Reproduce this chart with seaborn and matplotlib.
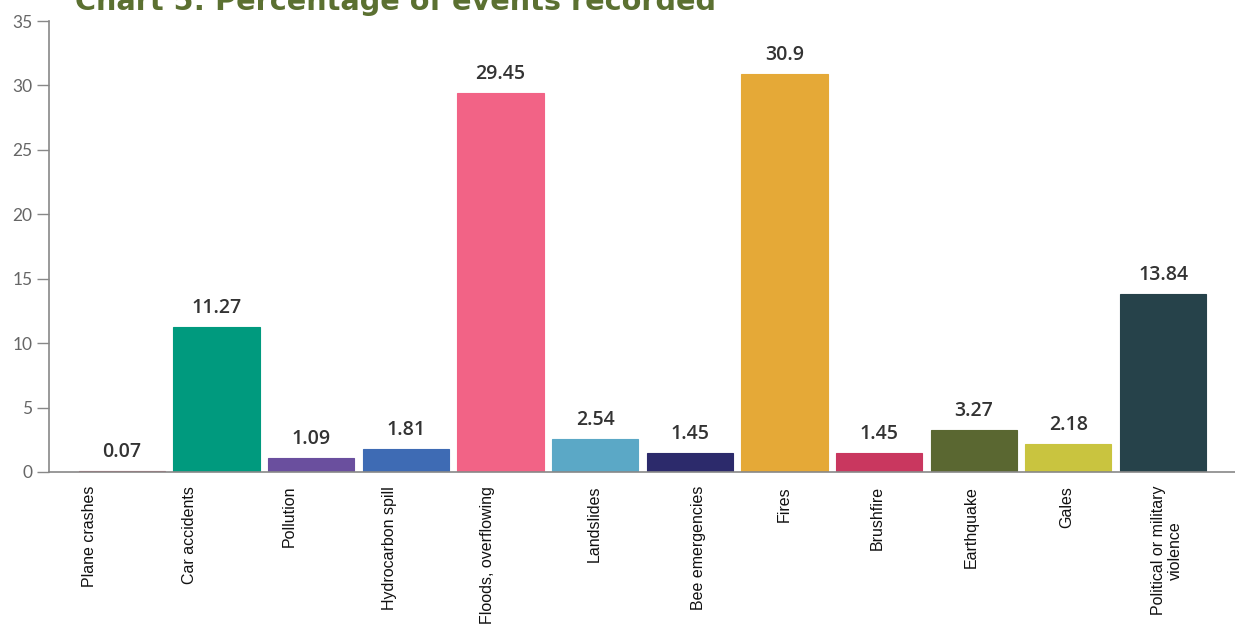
import matplotlib
matplotlib.use("Agg")
import matplotlib.pyplot as plt
import matplotlib.transforms as mtransforms
import seaborn as sns
import pandas as pd

categories = ["Plane crashes", "Car accidents", "Pollution", "Hydrocarbon spill",
              "Floods, overflowing", "Landslides", "Bee emergencies", "Fires",
              "Brushfire", "Earthquake", "Gales", "Political or military\nviolence"]
values = [0.07, 11.27, 1.09, 1.81, 29.45, 2.54, 1.45, 30.9, 1.45, 3.27, 2.18, 13.84]
value_labels = ["0.07", "11.27", "1.09", "1.81", "29.45", "2.54", "1.45", "30.9",
                "1.45", "3.27", "2.18", "13.84"]
colors = ["#c8566a", "#009a7e", "#6a4f9e", "#3e6bb4", "#f26386", "#5ba8c6",
          "#2c2a6b", "#e5a937", "#c9375f", "#5a6731", "#c9c43f", "#26424a"]
yticks = [0, 5, 10, 15, 20, 25, 30, 35]
title = "Chart 5: Percentage of events recorded"

# layout: horizontal pixel shift of each category label (as in the original)
label_shift_px = [-32, -27, -22, -16, -13, -1, 9, 0, -2, -3, -2, 4]

sns.set_theme(style="white")
plt.rcParams['font.family'] = ['DejaVu Sans']

df = pd.DataFrame({"category": categories, "value": values})

fig = plt.figure(figsize=(12.35, 6.26), dpi=100)
ax = fig.add_axes([49/1235, 1 - 472/626, 1 - 49/1235, (472 - 21)/626])

sns.barplot(data=df, x="category", y="value", hue="category", palette=colors,
            legend=False, width=0.91, saturation=1, linewidth=0.8,
            edgecolor=None, ax=ax)
for p, c in zip(ax.patches, colors):
    p.set_edgecolor(c)

ax.set_xlim(-0.77, 11.76)
ax.set_ylim(0, 35)
ax.set_yticks(yticks)
ax.set_yticklabels([str(t) for t in yticks], color="#666666", fontsize=12.5,
                   family="Lato")
ax.tick_params(axis="y", direction="out", length=9, width=1, color="#888888", pad=3, left=True)
ax.tick_params(axis="x", length=0, pad=10)
ax.set_xticks(range(len(categories)))
ax.set_xticklabels(categories, rotation=90, fontsize=11.5, family="Liberation Sans",
                   color="#111111", va="top", ha="center", multialignment="center")
for lab, dx in zip(ax.get_xticklabels(), label_shift_px):
    lab.set_transform(lab.get_transform() +
                      mtransforms.ScaledTranslation(dx / 100, 0, fig.dpi_scale_trans))
ax.set_xlabel("")
ax.set_ylabel("")

for s in ["top", "right"]:
    ax.spines[s].set_visible(False)
for s in ["left", "bottom"]:
    ax.spines[s].set_color("#888888")
    ax.spines[s].set_linewidth(1.2)

for i, (v, lab) in enumerate(zip(values, value_labels)):
    ax.annotate(lab, (i, v), xytext=(0, 10), textcoords="offset points",
                ha="center", va="baseline", fontsize=14, color="#333333",
                family="Open Sans", fontweight="semibold")

fig.text(75/1235, 1 - 10/626, title, ha="left", va="baseline", fontsize=20.7,
         fontweight="bold", color="#5b7031", family="DejaVu Sans")

fig.savefig("out.png", dpi=100)
